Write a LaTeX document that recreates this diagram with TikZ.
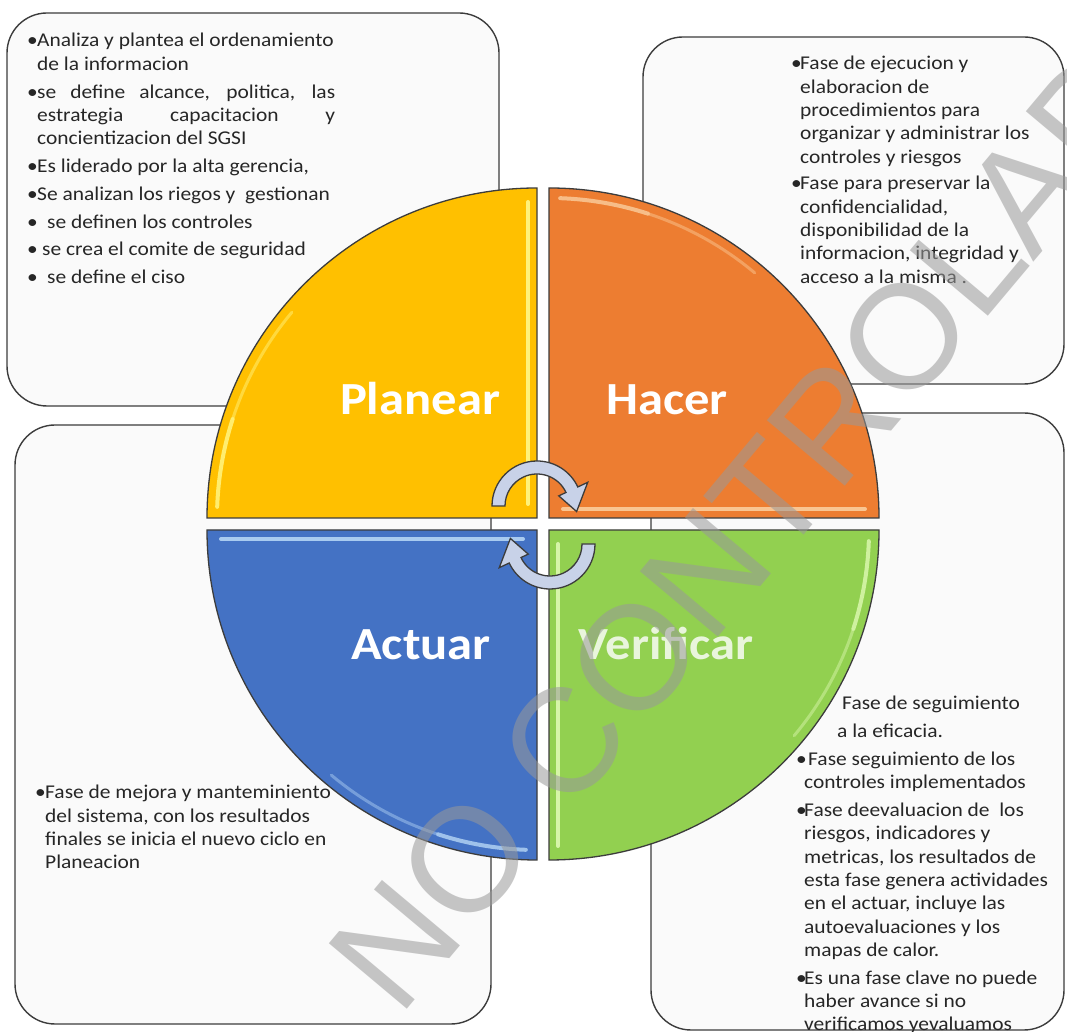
\documentclass[tikz,border=0pt]{standalone}
\usepackage{fontspec}
\setmainfont{Carlito}[FakeStretch=1.1]
\newfontfamily\wmfont{Liberation Sans}
\usetikzlibrary{positioning}

\definecolor{planearcol}{HTML}{FFC000}
\definecolor{hacercol}{HTML}{ED7D31}
\definecolor{actuarcol}{HTML}{4472C4}
\definecolor{verifcol}{HTML}{92D050}
\definecolor{planearhl}{HTML}{FFF27A}
\definecolor{hacerhl}{HTML}{F9C592}
\definecolor{actuarhl}{HTML}{A9CBF0}
\definecolor{verifhl}{HTML}{D6F5A8}
\definecolor{edgecol}{HTML}{3C3C3C}
\definecolor{boxfill}{HTML}{FAFAFA}
\definecolor{arrowcol}{HTML}{C8D2E8}
\definecolor{wmcol}{HTML}{999999}

\newlength{\itmhang}
\setlength{\itmhang}{10pt}
% bullet line with hanging indent
\newcommand{\itm}[2][10pt]{\par\hangindent=\itmhang\hangafter=1\noindent\makebox[#1][l]{\textbullet}#2}
\newcommand{\boxpar}[3][4.5pt]{\parbox[t]{#2}{\raggedright\setlength{\parskip}{#1}#3}}

\tikzset{
  infobox/.style = {draw=edgecol, line width=1.4pt, fill=boxfill, rounded corners=40pt, inner sep=0pt},
  boxtext/.style = {anchor=base west, inner sep=0pt, text=black!85, font=\fontsize{19.5}{23.3}\selectfont},
  phase/.style = {draw=edgecol, line width=1.3pt},
  phaselabel/.style = {text=white, font=\bfseries\fontsize{46}{50}\selectfont, anchor=base, inner sep=0pt},
  cyclearrow/.style = {draw=edgecol, line width=1.3pt, fill=arrowcol},
  wm/.style = {inner sep=0pt, text=wmcol, text opacity=0.55, font=\wmfont\fontsize{148}{150}\selectfont}
}

\begin{document}
\begin{tikzpicture}[x=1pt, y=1pt]
\useasboundingbox[fill=white] (0,0) rectangle (1067,1032);

% the four boxes
\node[infobox, minimum width=492pt, minimum height=393pt] (planbox) at (253,822.5) {};
\node[infobox, minimum width=421pt, minimum height=347pt] (hacerbox) at (853.5,821.5) {};
\node[infobox, minimum width=476pt, minimum height=599pt] (actuarbox) at (253,307.5) {};
\node[infobox, minimum width=413pt, minimum height=617pt] (verifbox) at (857.5,310.5) {};

% the wheel
\foreach \cx/\cy/\a/\col/\hl in {537/514/90/planearcol/planearhl, 549/514/0/hacercol/hacerhl,
    537/502/180/actuarcol/actuarhl, 549/502/270/verifcol/verifhl}{
  \begin{scope}[shift={(\cx,\cy)}]
    \draw[phase, fill=\col] (0,0) -- (\a:330) arc[start angle=\a, end angle=\a+90, radius=330] -- cycle;
    \draw[\hl, line width=4pt, line cap=round] (\a:14) ++(\a+90:9) -- ++(\a:302);
    \draw[\hl, line width=4pt, line cap=round, opacity=0.9] (\a+88:320) arc[start angle=\a+88, end angle=\a+72, radius=320];
    \draw[\hl, line width=3pt, line cap=round, opacity=0.5] (\a+72:320) arc[start angle=\a+72, end angle=\a+50, radius=320];
  \end{scope}
}

\node[phaselabel] (planear) at (420,617) {Planear};
\node[phaselabel] (hacer) at (667,617) {Hacer};
\node[phaselabel] (actuar) at (421,372) {Actuar};
\node[phaselabel, text opacity=0.8] (verificar) at (666,372) {Verificar};

% cycle arrows
\begin{scope}[shift={(537,526)}]
  \draw[cyclearrow] (180:45) arc[start angle=180, end angle=25, radius=45] -- (25:56)
    -- (-8:40) -- (25:24) -- (25:32) arc[start angle=25, end angle=180, radius=32] -- cycle;
\end{scope}
\begin{scope}[shift={(550,488)}]
  \draw[cyclearrow] (0:45) arc[start angle=0, end angle=-155, radius=45] -- (-155:56)
    -- (172:40) -- (-155:24) -- (-155:32) arc[start angle=-155, end angle=0, radius=32] -- cycle;
\end{scope}

% texts
\node[boxtext] (plantxt) at (27,985) {\boxpar{312pt}{%
\itm{Analiza y plantea el ordenamiento\newline de la informacion}
\itm{\makebox[298pt][s]{se define alcance, politica, las}\newline\makebox[298pt][s]{estrategia capacitacion y}\newline concientizacion del SGSI}
\itm{Es liderado por la alta gerencia,}
\itm{Se analizan los riegos y\ \ gestionan}
\itm[20pt]{se definen los controles}
\itm[15pt]{se crea el comite de seguridad}
\itm[20pt]{se define el ciso}}};

\node[boxtext] (hacertxt) at (791,962) {\boxpar[3.5pt]{268pt}{\setlength{\itmhang}{9pt}%
\itm[9pt]{Fase de ejecucion y\newline elaboracion de\newline procedimientos para\newline organizar y administrar los\newline controles y riesgos}
\itm[9pt]{Fase para preservar la\newline confidencialidad,\newline disponibilidad de la\newline informacion, integridad y\newline acceso a la misma .}}};

\node[boxtext] (actuartxt) at (35,233) {\boxpar{320pt}{%
\itm{Fase de mejora y manteminiento\newline del sistema, con los resultados\newline finales se inicia el nuevo ciclo en\newline Planeacion}}};

\node[boxtext] (veriftxt) at (796,322) {\boxpar{268pt}{\setlength{\itmhang}{8pt}%
\hspace*{46pt}Fase de seguimiento\par
\hspace*{41pt}a la eficacia.
\itm[12pt]{Fase seguimiento de los\newline controles implementados}
\itm[8pt]{Fase deevaluacion de\ \ los\newline riesgos, indicadores y\newline metricas, los resultados de\newline esta fase genera actividades\newline en el actuar, incluye las\newline autoevaluaciones y los\newline mapas de calor.}
\itm[8pt]{Es una fase clave no puede\newline haber avance si no\newline verificamos yevaluamos}}};

% watermark
\node[wm, rotate=50] (marca) at (775,541) {NO CONTROLADA};
\end{tikzpicture}
\end{document}
